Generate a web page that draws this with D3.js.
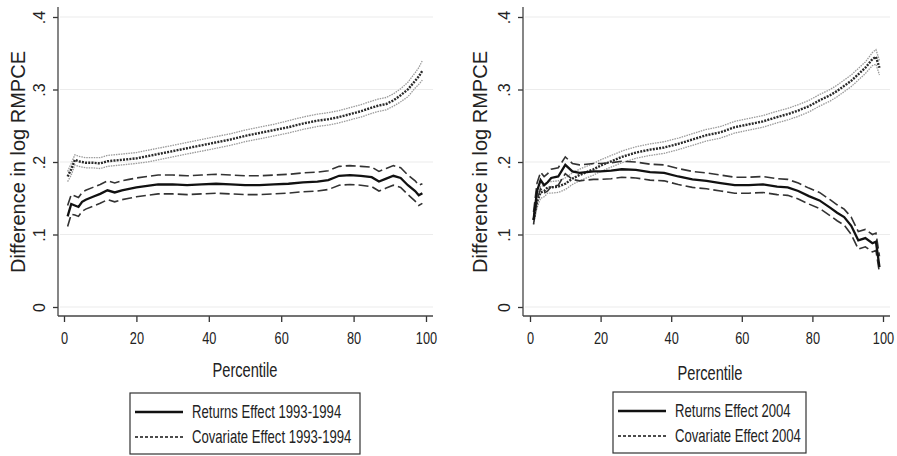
<!DOCTYPE html>
<html>
<head>
<meta charset="utf-8">
<script src="https://cdn.jsdelivr.net/npm/d3@7"></script>
<style>
  body { margin: 0; background: #fff; }
  svg { display: block; }
  text { font-family: "Liberation Sans", Arial, sans-serif; fill: #222; }
</style>
</head>
<body>
<div id="chart"></div>
<script>
const width = 897, height = 456
const narrow = 0.75 // the original uses a condensed face

const pctl = [1, 2, 3, 4, 5, 6, 8, 10, 12, 14, 16, 18, 20, 23, 26, 30, 34, 38, 42, 46, 50, 54, 58, 62, 66, 70, 73, 76, 79, 82, 85, 87, 89, 91, 93, 95, 97, 98, 99]

// 1993-1994
const ret93 = [.125, .142, .140, .138, .145, .148, .152, .156, .161, .158, .161, .163, .165, .167, .169, .169, .168, .169, .170, .169, .168, .168, .169, .170, .172, .173, .175, .181, .182, .181, .179, .173, .177, .181, .178, .168, .160, .154, .157]
const ret93Hi = [.140, .155, .153, .151, .158, .161, .165, .169, .174, .171, .174, .176, .178, .180, .182, .182, .181, .182, .183, .182, .181, .181, .182, .183, .185, .186, .188, .194, .195, .194, .193, .187, .191, .195, .192, .182, .174, .168, .170]
const ret93Lo = [.111, .128, .127, .125, .132, .135, .139, .143, .148, .145, .148, .150, .152, .154, .156, .156, .155, .156, .157, .156, .155, .155, .156, .157, .159, .160, .162, .168, .169, .168, .166, .160, .164, .168, .165, .155, .146, .140, .143]
const cov93 = [.180, .190, .203, .201, .200, .199, .199, .198, .201, .202, .203, .204, .205, .208, .211, .215, .219, .223, .227, .231, .236, .240, .244, .248, .253, .257, .259, .262, .266, .270, .275, .278, .280, .285, .292, .300, .312, .318, .326]
const cov93Hi = [.187, .198, .210, .208, .207, .206, .206, .206, .209, .210, .211, .212, .213, .216, .219, .223, .227, .231, .235, .239, .244, .248, .252, .257, .262, .266, .268, .271, .275, .279, .284, .287, .289, .294, .301, .310, .323, .330, .340]
const cov93Lo = [.173, .182, .196, .194, .193, .192, .192, .191, .194, .195, .196, .197, .198, .200, .203, .207, .211, .215, .219, .223, .228, .232, .236, .240, .245, .249, .251, .254, .258, .262, .267, .270, .272, .277, .283, .290, .302, .307, .313]

// 2004
const ret04 = [.120, .160, .175, .168, .172, .178, .180, .196, .187, .185, .186, .187, .187, .188, .190, .189, .186, .185, .180, .176, .174, .171, .168, .168, .169, .166, .165, .160, .153, .147, .137, .130, .124, .112, .092, .095, .088, .090, .055]
const ret04Hi = [.131, .171, .186, .180, .184, .190, .192, .207, .198, .196, .197, .198, .198, .199, .201, .200, .197, .196, .191, .187, .185, .182, .179, .179, .180, .177, .176, .171, .164, .158, .148, .141, .135, .124, .104, .107, .100, .102, .070]
const ret04Lo = [.114, .148, .163, .157, .160, .166, .168, .184, .176, .174, .175, .176, .176, .177, .179, .178, .175, .174, .169, .165, .163, .160, .157, .157, .158, .155, .154, .149, .142, .136, .126, .119, .113, .100, .080, .083, .076, .078, .047]
const cov04 = [.120, .145, .158, .160, .165, .165, .166, .170, .177, .182, .186, .190, .195, .201, .207, .213, .217, .220, .225, .231, .237, .241, .248, .252, .256, .262, .266, .271, .277, .285, .292, .298, .305, .312, .321, .330, .342, .345, .330]
const cov04Hi = [.128, .153, .166, .168, .173, .173, .174, .178, .185, .190, .194, .198, .203, .209, .215, .221, .225, .228, .233, .239, .245, .249, .256, .260, .264, .270, .274, .279, .285, .293, .300, .306, .313, .320, .329, .338, .351, .355, .340]
const cov04Lo = [.114, .137, .150, .152, .157, .157, .158, .162, .169, .174, .178, .182, .187, .193, .199, .205, .209, .212, .217, .223, .229, .233, .240, .244, .248, .254, .258, .263, .269, .277, .284, .290, .297, .304, .313, .322, .333, .335, .320]

const xTicks = [0, 20, 40, 60, 80, 100]
const yTicks = [0, .1, .2, .3, .4]
const yTitle = "Difference in log RMPCE"
const xTitle = "Percentile"
const legend93 = ["Returns Effect 1993-1994", "Covariate Effect 1993-1994"]
const legend04 = ["Returns Effect 2004", "Covariate Effect 2004"]

const svg = d3.select("#chart")
    .append("svg")
    .attr("width", width)
    .attr("height", height)

const panels = [
    {
        axisX: 58, right: 433, xRange: [64, 426], titleX: 25, pctX: 245, pctY: 377,
        ret: ret93, retHi: ret93Hi, retLo: ret93Lo, cov: cov93, covHi: cov93Hi, covLo: cov93Lo,
        legend: legend93, box: [130, 393, 230, 61]
    },
    {
        axisX: 523, right: 890, xRange: [530, 883], titleX: 487, pctX: 710, pctY: 380,
        ret: ret04, retHi: ret04Hi, retLo: ret04Lo, cov: cov04, covHi: cov04Hi, covLo: cov04Lo,
        legend: legend04, box: [613, 392, 193, 61]
    }
]

// condensed text: scale horizontally around its anchor
function narrowText(sel, x, y) {
    sel.attr("x", 0).attr("y", 0)
        .attr("transform", `translate(${x},${y}) scale(${narrow},1)`)
}

function drawPanel(p) {
    const g = svg.append("g")
    const x = d3.scaleLinear().domain([0, 100]).range(p.xRange)
    const y = d3.scaleLinear().domain([0, .4]).range([307, 17])
    const axisY = 316

    // gridlines
    g.selectAll(".grid")
        .data(yTicks)
        .enter()
        .append("line")
        .attr("x1", p.axisX + 2)
        .attr("x2", p.right)
        .attr("y1", d => y(d))
        .attr("y2", d => y(d))
        .style("stroke", "#ececec")
        .style("stroke-width", 1.2)

    // y axis
    const ya = g.append("g")
        .attr("transform", `translate(${p.axisX},0)`)
        .call(d3.axisLeft(y).tickValues(yTicks).tickSize(5)
            .tickFormat(d => d === 0 ? "0" : d3.format(".1f")(d).replace("0.", ".")))
    ya.select(".domain").remove()
    ya.selectAll(".tick line").style("stroke", "#333").style("stroke-width", 1.3)
    ya.selectAll(".tick text")
        .attr("x", null).attr("dy", null)
        .attr("transform", "translate(-13,0) rotate(-90)")
        .attr("text-anchor", "middle")
        .style("font-family", null)
        .style("font-size", "16px")

    // x axis
    const xa = g.append("g")
        .attr("transform", `translate(0,${axisY})`)
        .call(d3.axisBottom(x).tickValues(xTicks).tickSize(6))
    xa.select(".domain").remove()
    xa.selectAll(".tick line").style("stroke", "#333").style("stroke-width", 1.3)
    xa.selectAll(".tick text")
        .call(narrowText, 0, 28)
        .attr("dy", null)
        .style("font-size", "17px")

    // axis lines
    g.append("line")
        .attr("x1", p.axisX).attr("x2", p.axisX)
        .attr("y1", 7).attr("y2", axisY)
        .style("stroke", "#444").style("stroke-width", 1.3)
    g.append("line")
        .attr("x1", p.axisX).attr("x2", p.right)
        .attr("y1", axisY).attr("y2", axisY)
        .style("stroke", "#444").style("stroke-width", 1.3)

    // titles
    g.append("text")
        .text(yTitle)
        .attr("transform", `translate(${p.titleX},162) rotate(-90)`)
        .attr("text-anchor", "middle")
        .style("font-size", "20px")
    g.append("text")
        .text(xTitle)
        .call(narrowText, p.pctX, p.pctY)
        .attr("text-anchor", "middle")
        .style("font-size", "19.5px")

    const line = arr => d3.line()
        .x((d, i) => x(pctl[i]))
        .y(d => y(d))(arr)

    // covariate band + line
    ;[p.covHi, p.covLo].forEach(arr => {
        g.append("path")
            .attr("d", line(arr))
            .style("fill", "none")
            .style("stroke", "#9a9a9a")
            .style("stroke-width", 1.3)
            .style("stroke-dasharray", "1.5,1")
    })
    g.append("path")
        .attr("d", line(p.cov))
        .style("fill", "none")
        .style("stroke", "#2a2a2a")
        .style("stroke-width", 2.4)
        .style("stroke-dasharray", "2,1.2")

    // returns band + line
    ;[p.retHi, p.retLo].forEach(arr => {
        g.append("path")
            .attr("d", line(arr))
            .style("fill", "none")
            .style("stroke", "#333")
            .style("stroke-width", 1.6)
            .style("stroke-dasharray", "10,4")
    })
    g.append("path")
        .attr("d", line(p.ret))
        .style("fill", "none")
        .style("stroke", "#111")
        .style("stroke-width", 2.3)

    // legend
    const [bx, by, bw, bh] = p.box
    const lg = g.append("g")
    lg.append("rect")
        .attr("x", bx).attr("y", by)
        .attr("width", bw).attr("height", bh)
        .style("fill", "#fff")
        .style("stroke", "#333")
        .style("stroke-width", 1.2)
    const rows = [
        { label: p.legend[0], width: 2.4, dash: null },
        { label: p.legend[1], width: 1.3, dash: "3,2" }
    ]
    rows.forEach((r, i) => {
        const ry = by + 19 + i * 25
        lg.append("line")
            .attr("x1", bx + 5).attr("x2", bx + 53)
            .attr("y1", ry).attr("y2", ry)
            .style("stroke", "#111")
            .style("stroke-width", r.width)
            .style("stroke-dasharray", r.dash)
        lg.append("text")
            .text(r.label)
            .call(narrowText, bx + 62, ry + 6)
            .style("font-size", "17.5px")
    })
}

panels.forEach(drawPanel)
</script>
</body>
</html>
